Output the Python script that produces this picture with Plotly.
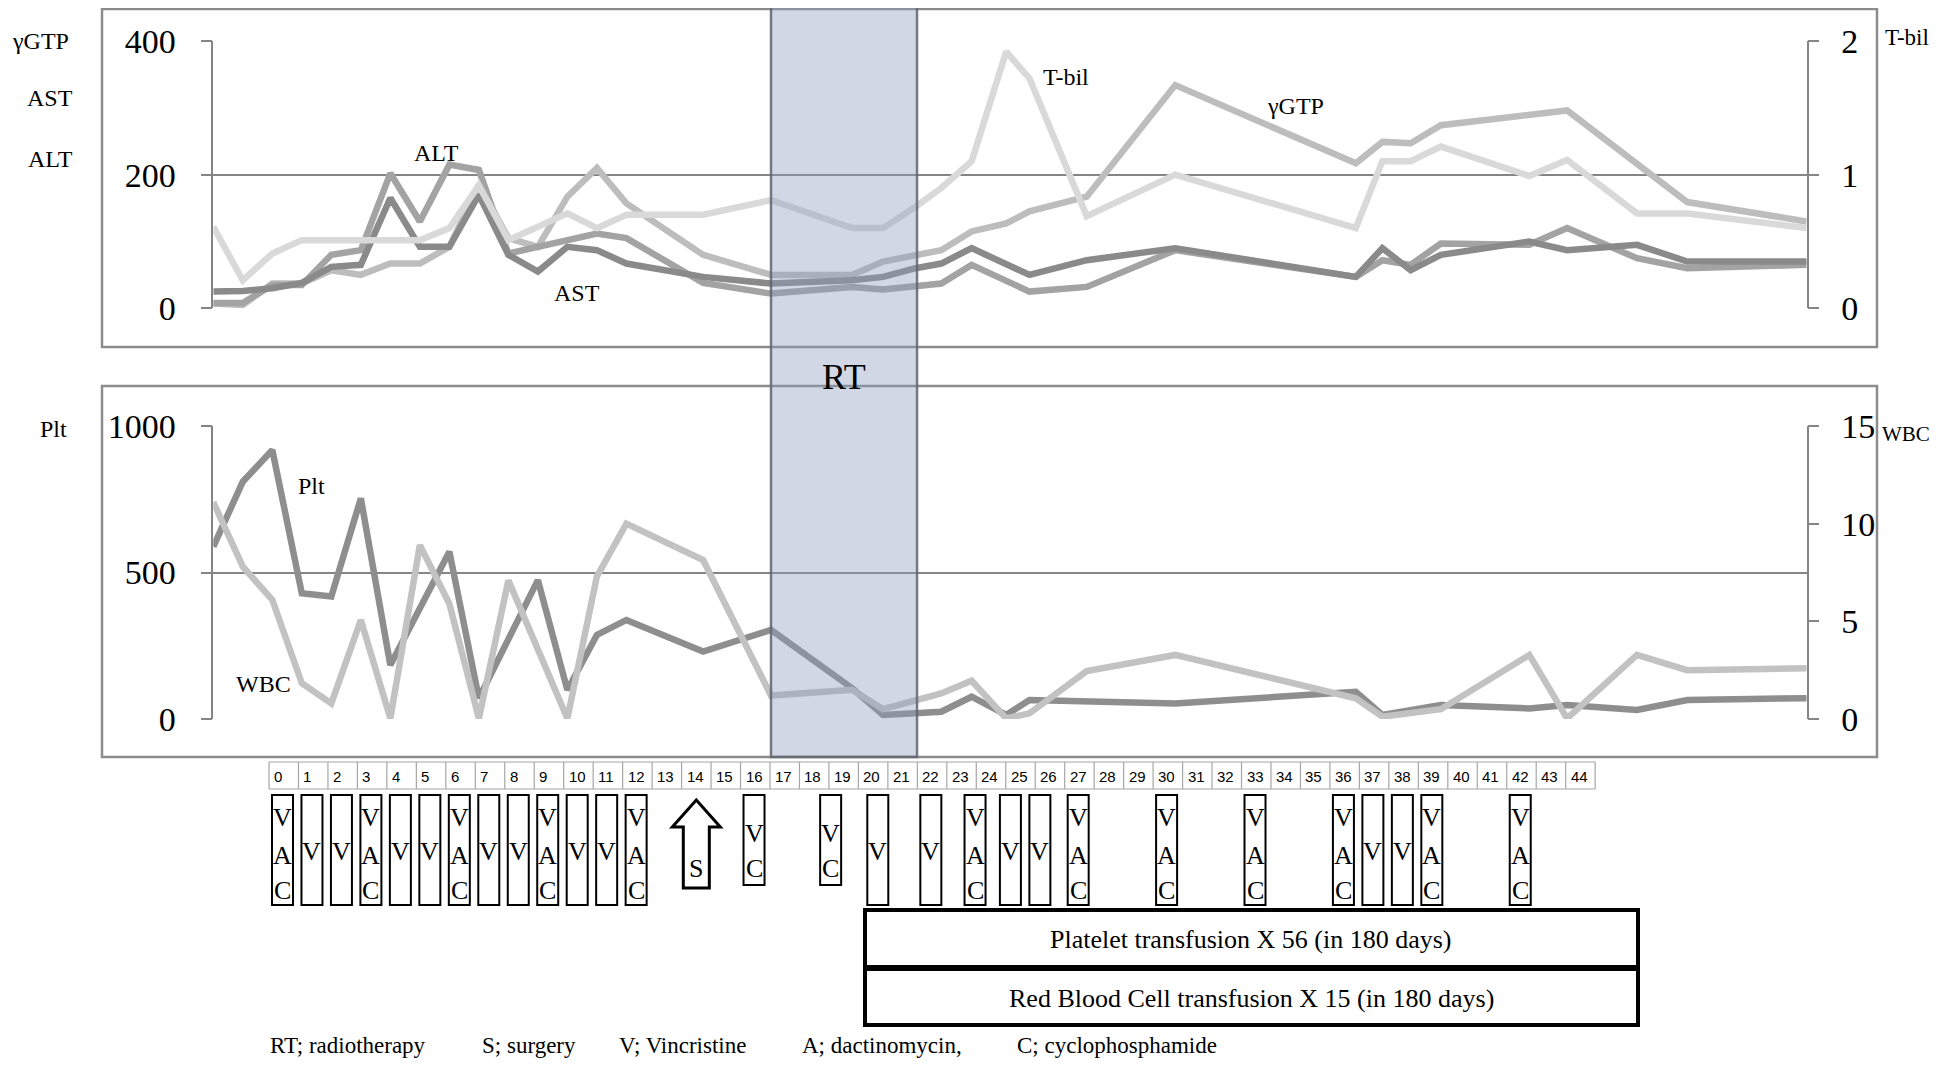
import plotly.graph_objects as go

# ---------------- data ----------------
# time points (weeks from start, as spaced on the chart's date axis)
t = [0, 1, 2, 3, 4, 5, 6, 7, 8, 9, 10, 11, 12, 13, 14,
     16.6, 18.9, 21.65, 22.7, 23.8, 24.67, 25.7, 26.87, 27.66, 29.6,
     32.6, 38.72, 39.62, 40.58, 41.6, 44.6, 45.88, 48.25, 49.95, 54]

tbil = [0.61, 0.21, 0.41, 0.51, 0.51, 0.51, 0.51, 0.51, 0.60, 0.92, 0.51, None, 0.71, 0.60, 0.70,
        0.70, 0.81, 0.60, 0.60, 0.76, 0.90, 1.10, 1.92, 1.72, 0.69,
        1.00, 0.60, 1.10, 1.10, 1.21, 0.99, 1.11, 0.71, 0.71, 0.60]
ggtp = [7, 5, 37, 37, 57, 50, 67, 67, 92, 185, 105, 92, 167, 210, 157,
        80, 50, 50, 70, 80, 87, 115, 127, 145, 167,
        334, 217, 249, 247, 274, None, 296, None, 159, 130]
alt = [8, 8, 35, 35, 80, 87, 202, 130, 215, 207, 82, 92, 102, 112, 105,
       38, 22, 32, 28, 32, 37, 65, None, 25, 32,
       87, 47, 72, 65, 97, 95, 120, 75, 60, 65]
ast = [25, 26, 30, 38, 62, 65, 165, 92, 92, 170, 80, 55, 92, 87, 67,
       47, 37, 42, 47, 60, 67, 90, None, 50, 72,
       90, 47, 90, 57, 80, 100, 87, 95, 70, 70]

plt_count = [588, 810, 918, 429, 418, 753, 184, None, 571, 71, None, 474, 99, 287, 338,
             230, 304, 105, 14, 19, 25, 76, 14, 65, 59,
             53, 93, 14, None, 48, 36, 48, 31, 65, 71]
wbc = [11.1, 7.8, 6.1, 1.83, 0.8, 5.07, 0.03, 8.9, 5.9, 0.03, 7.1, None, 0.03, 7.3, 10.0,
       8.14, 1.2, 1.5, 0.5, None, 1.31, 1.96, 0.03, 0.29, 2.45,
       3.28, 1.06, 0.12, None, 0.5, 3.28, 0.03, 3.28, 2.5, 2.6]

rt_start, rt_end = 18.9, 23.85

top_left_ticks = [0, 200, 400]
top_right_ticks = [0, 1, 2]
bot_left_ticks = [0, 500, 1000]
bot_right_ticks = [0, 5, 10, 15]

week_labels = [str(i) for i in range(45)]
treat_weeks = [0, 1, 2, 3, 4, 5, 6, 7, 8, 9, 10, 11, 12, 16, 18.6, 20.2, 22, 23.5,
               24.7, 25.7, 27, 30, 33, 36, 37, 38, 39, 42]
treat_drugs = ["VAC", "V", "V", "VAC", "V", "V", "VAC", "V", "V", "VAC", "V", "V", "VAC",
               "VC", "VC", "V", "V", "VAC", "V", "V", "VAC", "VAC", "VAC", "VAC",
               "V", "V", "VAC", "VAC"]
surgery_week = 14
platelet_text = "Platelet transfusion X 56 (in 180 days)"
rbc_text = "Red Blood Cell transfusion X 15 (in 180 days)"
footnote = ["RT; radiotherapy", "S; surgery", "V; Vincristine", "A; dactinomycin,", "C; cyclophosphamide"]


# ---------------- helpers ----------------
OFF = 8            # page body margin offset in the browser
W, H = 1930, 1054  # figure size that fits the 1946x1070 window with the body margin


def px(x):
    return (x - OFF) / W


def py(y):
    return 1 - (y - OFF) / H


SERIF = "Liberation Serif"
GRID = "#858585"
fig = go.Figure()

top_series = [("T-bil", tbil, "#d9d9d9", "y2"),
              ("γGTP", ggtp, "#bdbdbd", "y"),
              ("ALT", alt, "#a3a3a3", "y"),
              ("AST", ast, "#8a8a8a", "y")]
for name, vals, col, ax in top_series:
    fig.add_trace(go.Scatter(x=t, y=vals, name=name, mode="lines",
                             line=dict(color=col, width=6.5), connectgaps=True,
                             xaxis="x", yaxis=ax, hoverinfo="skip"))

fig.add_trace(go.Scatter(x=t, y=plt_count, name="Plt", mode="lines",
                         line=dict(color="#8e8e8e", width=6.5), connectgaps=True,
                         xaxis="x2", yaxis="y3", hoverinfo="skip"))
fig.add_trace(go.Scatter(x=t, y=wbc, name="WBC", mode="lines",
                         line=dict(color="#c2c2c2", width=6.5), connectgaps=True,
                         xaxis="x2", yaxis="y4", hoverinfo="skip"))

x_dom = [px(213.3), px(1806.7)]
common_y = dict(showline=True, linecolor=GRID, linewidth=1.5, ticks="outside", ticklen=11,
                tickcolor=GRID, tickwidth=1.5, zeroline=False, fixedrange=True,
                automargin=False,
                tickfont=dict(family=SERIF, size=34, color="black"))

fig.update_layout(
    width=W, height=H, autosize=False,
    margin=dict(l=0, r=0, t=0, b=0, pad=0),
    paper_bgcolor="white", plot_bgcolor="rgba(0,0,0,0)",
    showlegend=False,
    font=dict(family=SERIF, color="black"),
    xaxis=dict(domain=x_dom, range=[0, 54], visible=False, anchor="y", fixedrange=True,
               automargin=False),
    xaxis2=dict(domain=x_dom, range=[0, 54], visible=False, anchor="y3", fixedrange=True,
                automargin=False),
    yaxis=dict(domain=[py(308.3), py(41)], range=[0, 400], tickvals=top_left_ticks,
               showgrid=True, gridcolor=GRID, gridwidth=1.5, anchor="x",
               ticklabelstandoff=18, **common_y),
    yaxis2=dict(domain=[py(308.3), py(41)], range=[0, 2], tickvals=top_right_ticks,
                overlaying="y", side="right", anchor="x", showgrid=False,
                ticklabelstandoff=15, **common_y),
    yaxis3=dict(domain=[py(719), py(426)], range=[0, 1000], tickvals=bot_left_ticks,
                showgrid=True, gridcolor=GRID, gridwidth=1.5, anchor="x2",
                ticklabelstandoff=18, **common_y),
    yaxis4=dict(domain=[py(719), py(426)], range=[0, 15], tickvals=bot_right_ticks,
                overlaying="y3", side="right", anchor="x2", showgrid=False,
                ticklabelstandoff=15, **common_y),
)

shapes = []
# panel frames
for (x0, y0, x1, y1) in [(102, 3, 1877, 347), (102, 386, 1877, 757)]:
    shapes.append(dict(type="rect", xref="paper", yref="paper", x0=px(x0), x1=px(x1),
                       y0=py(y1), y1=py(max(y0, OFF + 1)), line=dict(color="#8c8c8c", width=2.5),
                       fillcolor="rgba(0,0,0,0)", layer="above"))
# RT shading
shapes.append(dict(type="rect", xref="x", yref="paper", x0=rt_start, x1=rt_end,
                   y0=py(757), y1=py(0), fillcolor="rgba(140,155,190,0.40)",
                   line=dict(color="rgba(95,100,110,0.85)", width=2.5), layer="above"))

# week table
cell_w = 29.47
tab_x0 = 269
tab_top, tab_bot = 762, 789
n = len(week_labels)
for yy in (tab_top, tab_bot):
    shapes.append(dict(type="line", xref="paper", yref="paper", x0=px(tab_x0),
                       x1=px(tab_x0 + cell_w * n), y0=py(yy), y1=py(yy),
                       line=dict(color="#a6a6a6", width=1.2)))
for i in range(n + 1):
    xx = tab_x0 + cell_w * i
    shapes.append(dict(type="line", xref="paper", yref="paper", x0=px(xx), x1=px(xx),
                       y0=py(tab_bot), y1=py(tab_top), line=dict(color="#a6a6a6", width=1.2)))

annotations = []


def add_text(text, x, y, size, xanchor="center", family=SERIF):
    annotations.append(dict(text=text, xref="paper", yref="paper", x=px(x), y=py(y),
                            xanchor=xanchor, yanchor="middle", showarrow=False,
                            font=dict(family=family, size=size, color="black")))


for i, lab in enumerate(week_labels):
    add_text(lab, tab_x0 + cell_w * i + 3, 776, 15, "left", "Liberation Sans")

# treatment boxes
letter_y = {"VAC": [817, 855, 890], "V": [851], "VC": [833, 868]}
for w, d in zip(treat_weeks, treat_drugs):
    left = tab_x0 + cell_w * w + 3
    bottom = 885 if d == "VC" else 905
    shapes.append(dict(type="rect", xref="paper", yref="paper", x0=px(left), x1=px(left + 21),
                       y0=py(bottom), y1=py(795), line=dict(color="black", width=2),
                       fillcolor="white"))
    for ch, yy in zip(d, letter_y[d]):
        add_text(ch, left + 10.5, yy, 26)

# surgery arrow
cx = tab_x0 + cell_w * (surgery_week + 0.5)
pts = [(cx, 800), (cx + 24, 827), (cx + 13, 827), (cx + 13, 888), (cx - 13, 888),
       (cx - 13, 827), (cx - 24, 827)]
path = "M " + " L ".join(f"{px(a):.5f},{py(b):.5f}" for a, b in pts) + " Z"
shapes.append(dict(type="path", xref="paper", yref="paper", path=path,
                   line=dict(color="black", width=3), fillcolor="white"))
add_text("S", cx, 868, 26)

# transfusion boxes
for (y0, y1), txt in [((910, 967), platelet_text), ((969, 1025), rbc_text)]:
    shapes.append(dict(type="rect", xref="paper", yref="paper", x0=px(865), x1=px(1638),
                       y0=py(y1), y1=py(y0), line=dict(color="black", width=4)))
    add_text(txt, 1251, (y0 + y1) / 2 + 1, 26)

# footnote
foot_x = [268, 480, 617, 800, 1015]
for fx, txt in zip(foot_x, footnote):
    add_text(txt, fx, 1045, 23, "left")

# axis titles / series labels
labels = [("γGTP", 10, 41, "left", 24), ("AST", 75, 98, "right", 24),
          ("ALT", 75, 159, "right", 24), ("T-bil", 1883, 38, "left", 23),
          ("Plt", 69, 429, "right", 24), ("WBC", 1880, 434, "left", 21),
          ("ALT", 436, 153, "center", 24), ("AST", 577, 293, "center", 24),
          ("T-bil", 1066, 77, "center", 24), ("γGTP", 1295, 106, "center", 24),
          ("Plt", 311, 486, "center", 24), ("WBC", 263, 684, "center", 24)]
for txt, xx, yy, anc, sz in labels:
    add_text(txt, xx, yy, sz, anc)
add_text("RT", 844, 377, 36)

fig.update_layout(shapes=shapes, annotations=annotations)
fig.write_html("out.html")
